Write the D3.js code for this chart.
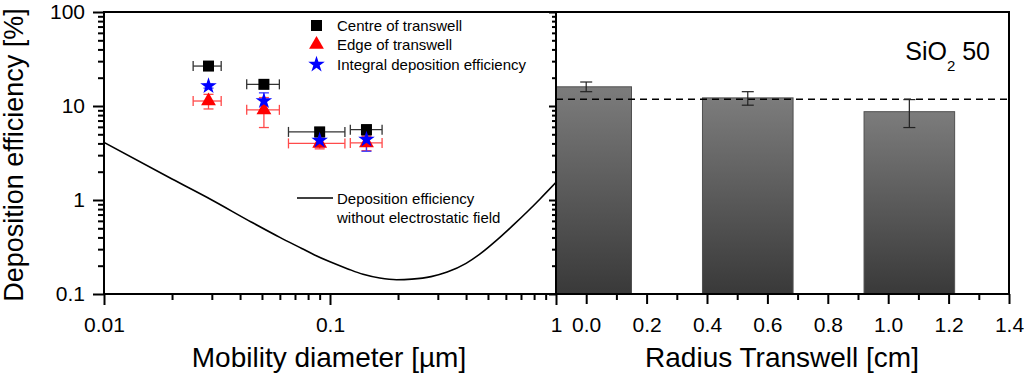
<!DOCTYPE html>
<html>
<head>
<meta charset="utf-8">
<script src="https://cdn.jsdelivr.net/npm/d3@7"></script>
<style>
  body { margin: 0; background: #fff; }
  svg { display: block; font-family: Arial, "Liberation Sans", sans-serif; }
</style>
</head>
<body>
<div id="chart"></div>
<script>
var width = 1024, height = 375;

// scatter data (left panel)
var diam = [0.029, 0.051, 0.090, 0.145];
var diamLo = [0.0248, 0.0428, 0.0655, 0.123];
var diamHi = [0.033, 0.0597, 0.1164, 0.170];
var centre = [26.6, 17.0, 5.3, 5.6];
var centreErr = [1.5, 1.5, 0.6, 0.7];
var edge = [11.3, 9.1, 4.0, 4.05];
var edgeErr = [2.0, 3.2, 0.5, 0.7];
var integral = [16.3, 11.3, 4.3, 4.4];
var integralErr = [0.8, 2.5, 0.6, 1.1];

// model curve without electrostatic field
var curveX = [0.01, 0.02, 0.03, 0.045, 0.06, 0.075, 0.085, 0.1, 0.12, 0.14, 0.166, 0.197, 0.23, 0.28, 0.33, 0.4, 0.46, 0.55, 0.65, 0.75, 0.85, 1.0];
var curveY = [4.1, 1.67, 1.0, 0.58, 0.40, 0.305, 0.262, 0.22, 0.185, 0.162, 0.148, 0.142, 0.144, 0.153, 0.171, 0.212, 0.265, 0.378, 0.546, 0.759, 1.026, 1.54];

// bar data (right panel)
var radius = [0.0, 0.535, 1.07];
var barVal = [16.0, 12.2, 8.7];
var barLo = [14.2, 10.2, 5.9];
var barHi = [18.0, 14.2, 11.7];
var meanLine = 11.8;

var yTickVals = [0.1, 1, 10, 100];
var xTickVals = [0.01, 0.1, 1];
var rTickVals = [0, 0.2, 0.4, 0.6, 0.8, 1.0, 1.2, 1.4];
var legendLabels = ["Centre of transwell", "Edge of transwell", "Integral deposition efficiency"];

var plot = {top: 12, bottom: 294, left: 104, mid: 556, right: 1009};

var xScale = d3.scaleLog().domain([0.01, 1]).range([plot.left, plot.mid]);
var yScale = d3.scaleLog().domain([0.1, 100]).range([plot.bottom, plot.top]);
var rScale = d3.scaleLinear().domain([-0.1, 1.4]).range([plot.mid, plot.right]);

var svg = d3.select("#chart").append("svg")
  .attr("width", width).attr("height", height);

var defs = svg.append("defs");
var grad = defs.append("linearGradient").attr("id", "barGrad")
  .attr("x1", 0).attr("y1", 0).attr("x2", 0).attr("y2", 1);
grad.append("stop").attr("offset", "0%").attr("stop-color", "#7c7c7c");
grad.append("stop").attr("offset", "100%").attr("stop-color", "#393939");

defs.append("clipPath").attr("id", "clipR").append("rect")
  .attr("x", plot.mid).attr("y", plot.top)
  .attr("width", plot.right - plot.mid).attr("height", plot.bottom - plot.top);
defs.append("clipPath").attr("id", "clipL").append("rect")
  .attr("x", plot.left).attr("y", plot.top)
  .attr("width", plot.mid - plot.left).attr("height", plot.bottom - plot.top);

// minor tick values for log axes
function logMinors(lo, hi) {
  var out = [];
  for (var p = lo; p < hi; p++) {
    for (var k = 2; k <= 9; k++) out.push(k * Math.pow(10, p));
  }
  return out;
}
var yMinor = logMinors(-1, 2);
var xMinor = logMinors(-2, 0);

// ---- right panel: bars ----
var gR = svg.append("g").attr("clip-path", "url(#clipR)");
var barW = rScale(0.3) - rScale(0);

gR.selectAll("rect.bar")
  .data(radius)
  .enter().append("rect")
  .attr("class", "bar")
  .attr("x", function(d) { return rScale(d) - barW / 2; })
  .attr("y", function(d, i) { return yScale(barVal[i]); })
  .attr("width", barW)
  .attr("height", function(d, i) { return plot.bottom - yScale(barVal[i]); })
  .style("fill", "url(#barGrad)")
  .style("stroke", "#505050")
  .style("stroke-width", 1);

gR.append("line")
  .attr("x1", plot.mid).attr("x2", plot.right)
  .attr("y1", yScale(meanLine)).attr("y2", yScale(meanLine))
  .style("stroke", "#000").style("stroke-width", 1.6)
  .style("stroke-dasharray", "7,5");

radius.forEach(function(r, i) {
  var cx = rScale(r);
  var g = gR.append("g").style("stroke", "#222").style("stroke-width", 1.2);
  g.append("line").attr("x1", cx).attr("x2", cx)
    .attr("y1", yScale(barLo[i])).attr("y2", yScale(barHi[i]));
  g.append("line").attr("x1", cx - 6).attr("x2", cx + 6)
    .attr("y1", yScale(barLo[i])).attr("y2", yScale(barLo[i]));
  g.append("line").attr("x1", cx - 6).attr("x2", cx + 6)
    .attr("y1", yScale(barHi[i])).attr("y2", yScale(barHi[i]));
});

// SiO2 50 label
var lab = svg.append("text")
  .attr("x", 990).attr("y", 60)
  .attr("text-anchor", "end")
  .style("font-size", "25px");
lab.append("tspan").text("SiO");
lab.append("tspan").attr("dy", 11).style("font-size", "15px").text("2");
lab.append("tspan").attr("dy", -11).text(" 50");

// ---- left panel: curve ----
var gL = svg.append("g").attr("clip-path", "url(#clipL)");
var line = d3.line()
  .x(function(d) { return xScale(d[0]); })
  .y(function(d) { return yScale(d[1]); })
  .curve(d3.curveMonotoneX);
gL.append("path")
  .datum(curveX.map(function(x, i) { return [x, curveY[i]]; }))
  .attr("d", line)
  .style("fill", "none").style("stroke", "#000").style("stroke-width", 1.6);

// markers
var star = d3.symbol().type(d3.symbolStar).size(85);
var tri = d3.symbol().type(d3.symbolTriangle).size(95);

function errBars(g, vals, errs, color, withX) {
  diam.forEach(function(x, i) {
    var cx = xScale(x), cy = yScale(vals[i]);
    var e = g.append("g").style("stroke", color).style("stroke-width", 1.3);
    if (withX) {
      e.append("line").attr("x1", xScale(diamLo[i])).attr("x2", xScale(diamHi[i]))
        .attr("y1", cy).attr("y2", cy);
      e.append("line").attr("x1", xScale(diamLo[i])).attr("x2", xScale(diamLo[i]))
        .attr("y1", cy - 5).attr("y2", cy + 5);
      e.append("line").attr("x1", xScale(diamHi[i])).attr("x2", xScale(diamHi[i]))
        .attr("y1", cy - 5).attr("y2", cy + 5);
    }
    var y1 = yScale(vals[i] - errs[i]), y2 = yScale(vals[i] + errs[i]);
    e.append("line").attr("x1", cx).attr("x2", cx).attr("y1", y1).attr("y2", y2);
    e.append("line").attr("x1", cx - 5).attr("x2", cx + 5).attr("y1", y1).attr("y2", y1);
    e.append("line").attr("x1", cx - 5).attr("x2", cx + 5).attr("y1", y2).attr("y2", y2);
  });
}

var gP = svg.append("g");
errBars(gP, centre, centreErr, "#333", true);
errBars(gP, edge, edgeErr, "#ff4a4a", true);
errBars(gP, integral, integralErr, "#3b3bff", false);

gP.selectAll("rect.sq")
  .data(diam).enter().append("rect").attr("class", "sq")
  .attr("x", function(d) { return xScale(d) - 5.5; })
  .attr("y", function(d, i) { return yScale(centre[i]) - 5.5; })
  .attr("width", 11).attr("height", 11)
  .style("fill", "#000");

gP.selectAll("path.tri")
  .data(diam).enter().append("path").attr("class", "tri")
  .attr("d", tri)
  .attr("transform", function(d, i) { return "translate(" + xScale(d) + "," + yScale(edge[i]) + ")"; })
  .style("fill", "#ff0000");

gP.selectAll("path.star")
  .data(diam).enter().append("path").attr("class", "star")
  .attr("d", star)
  .attr("transform", function(d, i) { return "translate(" + xScale(d) + "," + yScale(integral[i]) + ")"; })
  .style("fill", "#0000ff");

// legend
var legY = [25.5, 44.5, 64.5];
var legG = svg.append("g").style("font-size", "15px");
legG.append("rect").attr("x", 311).attr("y", legY[0] - 5.5).attr("width", 11).attr("height", 11).style("fill", "#000");
legG.append("path").attr("d", tri).attr("transform", "translate(316.5," + legY[1] + ")").style("fill", "#ff0000");
legG.append("path").attr("d", star).attr("transform", "translate(316.5," + legY[2] + ")").style("fill", "#0000ff");
legendLabels.forEach(function(t, i) {
  legG.append("text").attr("x", 337).attr("y", legY[i] + 5).text(t);
});

// curve legend
svg.append("line").attr("x1", 297).attr("x2", 333).attr("y1", 198).attr("y2", 198)
  .style("stroke", "#000").style("stroke-width", 1.6);
svg.append("text").attr("x", 337).attr("y", 203.5).style("font-size", "15px").text("Deposition efficiency");
svg.append("text").attr("x", 337).attr("y", 223).style("font-size", "15px").text("without electrostatic field");

// ---- frames and axes ----
svg.append("rect")
  .attr("x", plot.left).attr("y", plot.top)
  .attr("width", plot.right - plot.left).attr("height", plot.bottom - plot.top)
  .style("fill", "none").style("stroke", "#000").style("stroke-width", 2);
svg.append("line")
  .attr("x1", plot.mid).attr("x2", plot.mid).attr("y1", plot.top).attr("y2", plot.bottom)
  .style("stroke", "#000").style("stroke-width", 2);

function styleAxis(g) {
  g.select(".domain").remove();
  g.selectAll("line").style("stroke", "#000").style("stroke-width", 2);
  g.selectAll("text").style("font-size", "21px").style("fill", "#000")
    .style("font-family", "Arial, 'Liberation Sans', sans-serif");
}

// left y axis
svg.append("g").attr("transform", "translate(" + plot.left + ",0)")
  .call(d3.axisLeft(yScale).tickValues(yMinor).tickSize(6).tickFormat(""))
  .call(styleAxis);
svg.append("g").attr("transform", "translate(" + plot.left + ",0)")
  .call(d3.axisLeft(yScale).tickValues(yTickVals).tickSize(11).tickPadding(8)
    .tickFormat(function(d) { return String(d); }))
  .call(styleAxis);

// inner ticks on the divider (pointing into left panel)
svg.append("g").attr("transform", "translate(" + plot.mid + ",0)")
  .call(d3.axisLeft(yScale).tickValues(yMinor).tickSize(4).tickFormat(""))
  .call(styleAxis);
svg.append("g").attr("transform", "translate(" + plot.mid + ",0)")
  .call(d3.axisLeft(yScale).tickValues(yTickVals).tickSize(7).tickFormat(""))
  .call(styleAxis);

// left x axis
svg.append("g").attr("transform", "translate(0," + plot.bottom + ")")
  .call(d3.axisBottom(xScale).tickValues(xMinor).tickSize(6).tickFormat(""))
  .call(styleAxis);
svg.append("g").attr("transform", "translate(0," + plot.bottom + ")")
  .call(d3.axisBottom(xScale).tickValues(xTickVals).tickSize(11).tickPadding(12)
    .tickFormat(function(d) { return String(d); }))
  .call(styleAxis);

// right x axis
svg.append("g").attr("transform", "translate(0," + plot.bottom + ")")
  .call(d3.axisBottom(rScale).tickValues([0.1, 0.3, 0.5, 0.7, 0.9, 1.1, 1.3]).tickSize(6).tickFormat(""))
  .call(styleAxis);
svg.append("g").attr("transform", "translate(0," + plot.bottom + ")")
  .call(d3.axisBottom(rScale).tickValues(rTickVals).tickSize(10).tickPadding(13)
    .tickFormat(d3.format(".1f")))
  .call(styleAxis);

// axis titles
svg.append("text")
  .attr("transform", "translate(23,155) rotate(-90)")
  .attr("text-anchor", "middle")
  .style("font-size", "27px")
  .text("Deposition efficiency [%]");
svg.append("text")
  .attr("x", 329).attr("y", 367)
  .attr("text-anchor", "middle")
  .style("font-size", "28px")
  .text("Mobility diameter [µm]");
svg.append("text")
  .attr("x", 782).attr("y", 367)
  .attr("text-anchor", "middle")
  .style("font-size", "28px")
  .text("Radius Transwell [cm]");
</script>
</body>
</html>
